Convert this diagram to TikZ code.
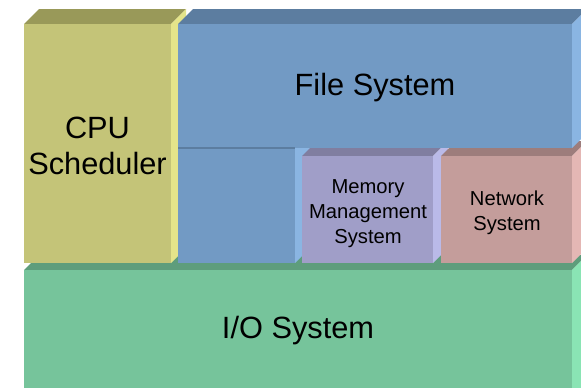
\documentclass[tikz,border=0pt]{standalone}
\usepackage{fontspec}
\setmainfont{Liberation Sans}
\definecolor{cpufront}{RGB}{196,196,120}
\definecolor{cputop}{RGB}{153,153,89}
\definecolor{cpuside}{RGB}{228,228,138}
\definecolor{fsfront}{RGB}{114,154,196}
\definecolor{fstop}{RGB}{92,125,160}
\definecolor{fsside}{RGB}{138,181,226}
\definecolor{memfront}{RGB}{160,158,200}
\definecolor{memtop}{RGB}{128,126,160}
\definecolor{memside}{RGB}{186,186,232}
\definecolor{netfront}{RGB}{196,157,155}
\definecolor{nettop}{RGB}{157,125,124}
\definecolor{netside}{RGB}{228,183,180}
\definecolor{iofront}{RGB}{118,196,155}
\definecolor{iotop}{RGB}{94,157,124}
\definecolor{ioside}{RGB}{138,228,180}
% block: x1,y1 (front top left), x2,y2 (front bottom right), front, top, side
\newcommand{\layerbox}[7]{%
\fill[#6](#1,#2)--++(15,-15)--(#3+15,#2-15)--(#3,#2)--cycle;
\fill[#7](#3,#2)--++(15,-15)--(#3+15,#4-15)--(#3,#4)--cycle;
\fill[#5](#1,#2)rectangle(#3,#4);
}
\tikzset{
  biglabel/.style={align=center,font=\fontsize{17.5}{20.5}\selectfont},
  smalllabel/.style={align=center,font=\fontsize{11.5}{14.2}\selectfont}
}

\begin{document}
\begin{tikzpicture}[x=0.02cm,y=-0.02cm]
\useasboundingbox(0,0)rectangle(581,387);
\fill[white](0,0)rectangle(581,387);
\clip(0,0)rectangle(581,387);
%io layer
\layerbox{24}{270}{572}{400}{iofront}{iotop}{ioside}
%cpu scheduler
\layerbox{24}{24}{171}{263}{cpufront}{cputop}{cpuside}
%file system, lower part
\layerbox{178}{148}{295}{263}{fsfront}{fstop}{fsside}
%memory
\layerbox{302}{156}{433}{263}{memfront}{memtop}{memside}
%network
\layerbox{441}{156}{572}{263}{netfront}{nettop}{netside}
%file system, upper part
\layerbox{178}{24}{572}{148}{fsfront}{fstop}{fsside}
\draw[fstop,line width=.6](178,148)--(295,148);
%labels
\node[biglabel](cpu)at(97.5,146){CPU\\Scheduler};
\node[biglabel](fs)at(375,88){File System};
\node[smalllabel](mem)at(368,214){Memory\\Management\\System};
\node[smalllabel](net)at(507,213){Network\\System};
\node[biglabel](io)at(298,331){I/O System};
\end{tikzpicture}
\end{document}
